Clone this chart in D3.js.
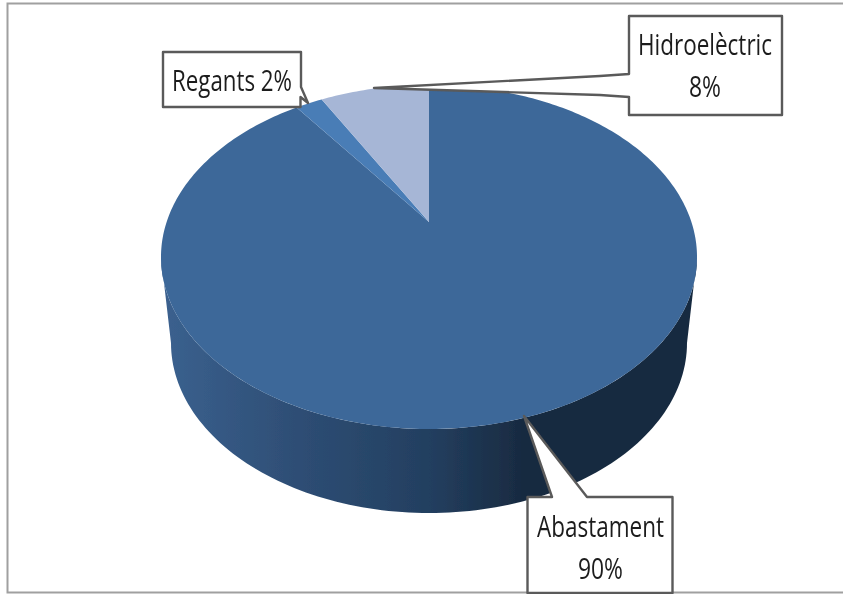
<!DOCTYPE html>
<html><head><meta charset="utf-8">
<style>html,body{margin:0;padding:0;background:#fff}svg{display:block}</style>
<script src="https://cdn.jsdelivr.net/npm/d3@7/dist/d3.min.js"></script>
</head><body><div id="c"></div>
<script>
const categories = ["Abastament", "Regants", "Hidroelèctric"];
const values = [90, 2, 8];
const sliceColors = ["#3D6899", "#4A7DB6", "#A6B6D6"];
const labelLines = [["Abastament", "90%"], ["Regants 2%"], ["Hidroelèctric", "8%"]];

const W = 843, H = 594;
const svg = d3.select("#c").append("svg").attr("width", W).attr("height", H);

// Perspective projection of the unit disc on to the top face
const cx = 429, vy = 222, c = 262.4, b = 119.7, k = 0.2035;
const project = a => {
  const u = Math.sin(a), v = Math.cos(a), w = 1 + k * v;
  return [cx + c * u / w, (vy - b * v) / w];
};
// Lower rim of the cylinder
const bottom = a => [cx + 258 * Math.sin(a), 343 - 170 * Math.cos(a)];

const defs = svg.append("defs");
const grad = defs.append("linearGradient").attr("id", "side")
  .attr("gradientUnits", "userSpaceOnUse").attr("x1", 161).attr("x2", 697).attr("y1", 0).attr("y2", 0);
[[0, "#3B618F"], [0.25, "#2E4E75"], [0.5, "#233F60"], [0.68, "#182A40"], [1, "#182A40"]]
  .forEach(s => grad.append("stop").attr("offset", s[0]).attr("stop-color", s[1]));
defs.append("filter").attr("id", "soft").append("feGaussianBlur").attr("stdDeviation", 0.45);

const root = svg.append("g").attr("filter", "url(#soft)");
const line = d3.line();
const steps = d3.range(0, 1.0001, 1 / 120);

// Frame: left, top and bottom rules only
root.append("path").attr("d", line([[843, 3.5], [7.5, 3.5], [7.5, 592.5], [843, 592.5]]))
  .attr("fill", "none").attr("stroke", "#a0a0a0").attr("stroke-width", 2);

// Side wall: front half of both rims
const frontBottom = steps.map(t => bottom(Math.PI * 1.5 - t * Math.PI));
const ext = Math.acos(-0.2035);
const sideTop = steps.map(t => project(ext + t * (2 * Math.PI - 2 * ext)));
root.append("path").attr("d", line(sideTop.concat(frontBottom)) + "Z").attr("fill", "url(#side)");

// Top face slices
const pie = d3.pie().sort(null)(values);
root.append("g").selectAll("path").data(pie).join("path")
  .attr("d", d => {
    const n = Math.max(8, Math.round((d.endAngle - d.startAngle) * 60));
    const pts = d3.range(n + 1).map(i => project(d.startAngle + (d.endAngle - d.startAngle) * i / n));
    return line([[cx, vy]].concat(pts)) + "Z";
  })
  .attr("fill", (d, i) => sliceColors[i]);

// Callouts
const callouts = [
  { i: 0, pts: [[527.5, 497], [552, 497], [524, 416], [587, 497], [672.5, 497], [672.5, 593], [527.5, 593]], ty: [537, 579], tx: 600.5, tl: [127, 45] },
  { i: 1, pts: [[163, 52], [301, 52], [301, 87], [308, 103], [300.5, 97], [300.5, 107], [163, 107]], ty: [91], tx: 232, tl: [120] },
  { i: 2, pts: [[629, 16], [782, 16], [782, 115], [629, 115], [629, 97], [600, 95], [374, 88], [600, 76], [629, 74]], ty: [55, 97], tx: 705, tl: [134, 32] }
];
const g = root.append("g");
callouts.forEach(cl => {
  g.append("path").attr("d", line(cl.pts) + "Z").attr("fill", "#fff")
    .attr("stroke", "#5a5a5a").attr("stroke-width", 2.4).attr("stroke-linejoin", "round");
  labelLines[cl.i].forEach((txt, j) => {
    g.append("text").text(txt).attr("x", cl.tx).attr("y", cl.ty[j])
      .attr("text-anchor", "middle").attr("font-family", "'Open Sans', sans-serif")
      .attr("font-size", 30).attr("fill", "#1c1c1c")
      .attr("textLength", cl.tl[j]).attr("lengthAdjust", "spacingAndGlyphs");
  });
});
</script></body></html>
